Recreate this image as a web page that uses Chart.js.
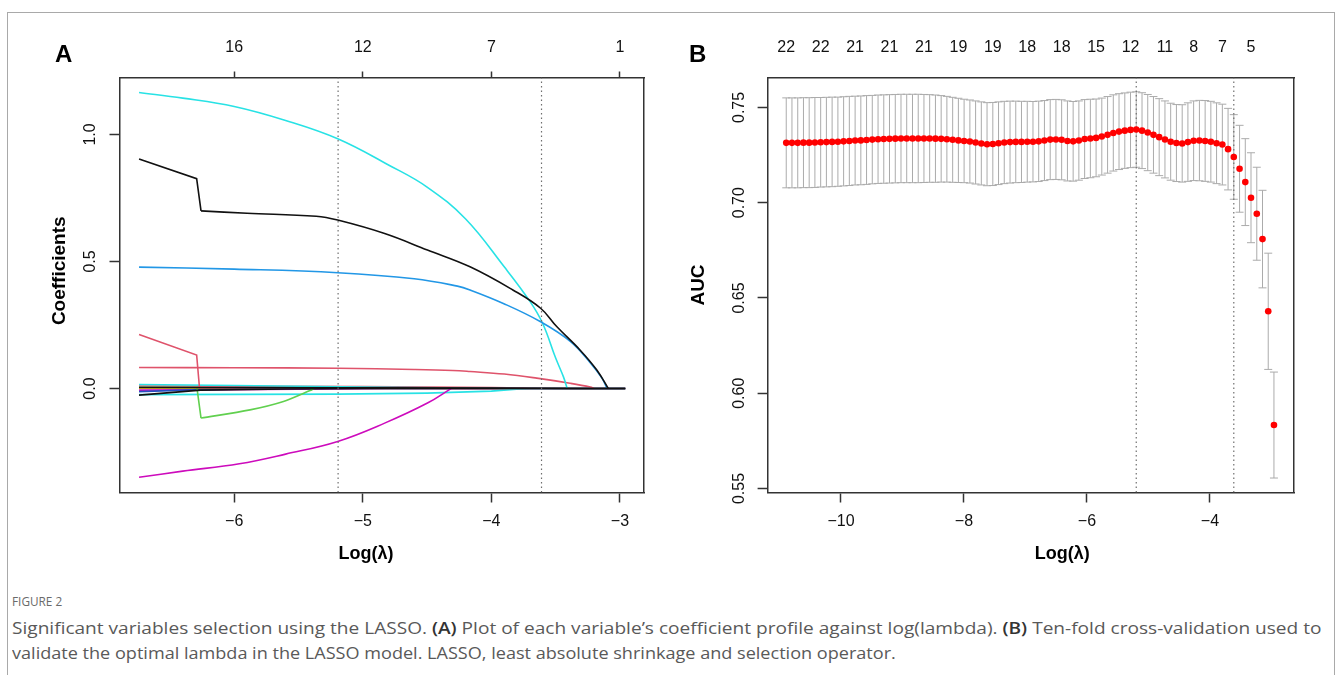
<!DOCTYPE html>
<html>
<head>
<meta charset="utf-8">
<script src="https://cdn.jsdelivr.net/npm/chart.js@4.4.0/dist/chart.umd.min.js"></script>
<style>
html,body{margin:0;padding:0;background:#fff;}
body{width:1335px;height:675px;position:relative;overflow:hidden;}
#frame{position:absolute;left:7px;top:12px;width:1326px;height:700px;border:1px solid #a9a9a9;border-bottom:none;}
#wrapA{position:absolute;left:0;top:0;width:670px;height:580px;}
#wrapB{position:absolute;left:670px;top:0;width:665px;height:580px;}
.panel{position:absolute;font:bold 24px/1 "Liberation Sans",Arial,sans-serif;color:#000;}
#figno{position:absolute;left:12px;top:596px;font:12.5px/12px "Open Sans",sans-serif;color:#6a6a6a;white-space:nowrap;transform-origin:0 0;}
.capline{position:absolute;left:12px;font:16.5px/25px "Open Sans",sans-serif;color:#595959;white-space:nowrap;transform-origin:0 0;}
.capline b{font-weight:600;color:#333;}
</style>
</head>
<body>
<div id="frame"></div>
<div id="wrapA"><canvas id="cA" width="670" height="580"></canvas></div>
<div id="wrapB"><canvas id="cB" width="665" height="580"></canvas></div>
<div class="panel" style="left:55px;top:42px;">A</div>
<div class="panel" style="left:689px;top:42px;">B</div>
<div id="figno">FIGURE 2</div>
<div class="capline" id="capL1" style="top:615px;">Significant variables selection using the LASSO. <b>(A)</b> Plot of each variable’s coefficient profile against log(lambda). <b>(B)</b> Ten-fold cross-validation used to</div>
<div class="capline" id="capL2" style="top:640px;">validate the optimal lambda in the LASSO model. LASSO, least absolute shrinkage and selection operator.</div>
<script>
// ================= Panel A: coefficient paths =================
const xTicksA = [-6, -5, -4, -3];
const topLabelsA = ['16', '12', '7', '1'];
const yTicksA = [0, 0.5, 1.0];
const xRangeA = [-6.892, -2.813];
const yRangeA = [-0.409, 1.224];
const cutoffsA = [-5.192, -3.610];

const pathBlack   = [[-6.74,0.903],[-6.292,0.826],[-6.258,0.699],[-5.9,0.690],[-5.362,0.678],[-5.195,0.663],[-4.83,0.610],[-4.497,0.545],[-4.166,0.479],[-3.833,0.388],[-3.617,0.316],[-3.492,0.244],[-3.311,0.152],[-3.18,0.073],[-3.09,0]];
const pathCyan    = [[-6.74,1.165],[-6.4,1.143],[-6.0,1.110],[-5.6,1.055],[-5.195,0.983],[-4.8,0.880],[-4.5,0.793],[-4.2,0.667],[-3.9,0.479],[-3.7,0.343],[-3.6,0.255],[-3.5,0.120],[-3.44,0.047],[-3.41,0]];
const pathBlue    = [[-6.74,0.478],[-6.0,0.470],[-5.195,0.456],[-4.6,0.432],[-4.264,0.403],[-4.166,0.388],[-3.907,0.335],[-3.617,0.263],[-3.384,0.185],[-3.228,0.100],[-3.14,0.041],[-3.10,0]];
const pathPinkHi  = [[-6.74,0.213],[-6.292,0.132],[-6.27,0.003],[-5.0,0.002],[-4.0,0],[-2.959,0]];
const pathPinkLo  = [[-6.74,0.083],[-6.0,0.082],[-5.195,0.080],[-4.6,0.075],[-4.3,0.071],[-4.166,0.067],[-3.9,0.057],[-3.647,0.041],[-3.389,0.021],[-3.23,0.006],[-3.2,0]];
const pathGreen   = [[-6.74,0.005],[-6.29,0.004],[-6.258,-0.116],[-5.877,-0.084],[-5.617,-0.051],[-5.41,-0.008],[-5.38,0]];
const pathMagenta = [[-6.74,-0.349],[-6.4,-0.325],[-5.96,-0.296],[-5.6,-0.258],[-5.195,-0.208],[-4.83,-0.136],[-4.497,-0.057],[-4.314,0]];
const pathCyanLow = [[-6.74,-0.024],[-5.195,-0.022],[-4.5,-0.018],[-4.0,-0.010],[-3.78,-0.002],[-3.7,0],[-2.959,0]];
const pathCyanHi  = [[-6.74,0.016],[-6.0,0.012],[-5.0,0.006],[-4.2,0.002],[-3.9,0],[-2.959,0]];
const pathBlackNeg= [[-6.74,-0.026],[-6.26,-0.006],[-5.6,-0.002],[-5.0,0],[-2.959,0]];
const pathBlackPos= [[-6.74,0.004],[-5.0,0.003],[-4.0,0.002],[-3.3,0],[-2.959,0]];
const pathPinkNear= [[-6.74,0.010],[-5.0,0.008],[-4.0,0.004],[-3.5,0],[-2.959,0]];
const pathGrayNear= [[-6.74,0.006],[-5.5,0.003],[-4.6,0],[-2.959,0]];
const pathBlueNear= [[-6.74,-0.012],[-6.26,-0.004],[-5.6,0],[-2.959,0]];
const pathMagNear = [[-6.74,-0.006],[-5.5,-0.003],[-4.8,0],[-2.959,0]];
const pathYellow  = [[-6.74,0.001],[-6.3,0],[-2.959,0]];

// ================= Panel B: cross-validated AUC =================
const lambdaB = [-10.890,-10.797,-10.703,-10.610,-10.517,-10.424,-10.330,-10.237,-10.144,-10.050,
  -9.957,-9.864,-9.770,-9.677,-9.584,-9.491,-9.397,-9.304,-9.211,-9.117,
  -9.024,-8.931,-8.837,-8.744,-8.651,-8.558,-8.464,-8.371,-8.278,-8.184,
  -8.091,-7.998,-7.904,-7.811,-7.718,-7.625,-7.531,-7.438,-7.345,-7.251,
  -7.158,-7.065,-6.971,-6.878,-6.785,-6.692,-6.598,-6.505,-6.412,-6.318,
  -6.225,-6.132,-6.038,-5.945,-5.852,-5.759,-5.665,-5.572,-5.479,-5.385,
  -5.292,-5.199,-5.105,-5.012,-4.919,-4.826,-4.732,-4.639,-4.546,-4.452,
  -4.359,-4.266,-4.172,-4.079,-3.986,-3.893,-3.799,-3.706,-3.613,-3.519,
  -3.426,-3.333,-3.239,-3.146,-3.053,-2.960];
const aucMean = [.7314,.7314,.7314,.7315,.7315,.7316,.7317,.7318,.7319,.7320,
  .7322,.7324,.7326,.7327,.7329,.7331,.7333,.7334,.7335,.7336,
  .7337,.7337,.7337,.7337,.7337,.7337,.7336,.7335,.7333,.7330,
  .7327,.7324,.7321,.7316,.7311,.7307,.7308,.7312,.7316,.7318,
  .7319,.7319,.7320,.7320,.7322,.7326,.7331,.7332,.7330,.7324,
  .7322,.7326,.7334,.7337,.7340,.7347,.7356,.7366,.7373,.7378,
  .7382,.7384,.7378,.7368,.7356,.7344,.7332,.7320,.7313,.7311,
  .7318,.7325,.7326,.7324,.7320,.7312,.7305,.7281,.7240,.7178,
  .7108,.7026,.6942,.6809,.6430,.5833];
const aucSE = [.0236,.0236,.0236,.0236,.0236,.0236,.0235,.0235,.0235,.0234,
  .0234,.0234,.0233,.0233,.0233,.0232,.0232,.0232,.0232,.0232,
  .0232,.0232,.0232,.0232,.0231,.0230,.0229,.0227,.0225,.0223,
  .0221,.0219,.0218,.0218,.0218,.0218,.0218,.0217,.0216,.0215,
  .0214,.0213,.0212,.0211,.0211,.0210,.0210,.0210,.0210,.0210,
  .0209,.0208,.0207,.0206,.0204,.0202,.0201,.0200,.0199,.0198,
  .0198,.0198,.0199,.0200,.0201,.0202,.0202,.0202,.0202,.0203,
  .0206,.0209,.0211,.0212,.0212,.0212,.0212,.0214,.0222,.0228,
  .0228,.0236,.0244,.0256,.0305,.0278];
const topPosB = [-10.890,-10.330,-9.770,-9.211,-8.651,-8.091,-7.531,-6.971,-6.412,-5.852,-5.292,-4.732,-4.266,-3.799,-3.333];
const topLabelsB = ['22','22','21','21','21','19','19','18','18','15','12','11','8','7','5'];
const xTicksB = [-10, -8, -6, -4];
const yTicksB = [0.55, 0.60, 0.65, 0.70, 0.75];
const xRangeB = [-11.193, -2.634];
const yRangeB = [0.5479, 0.7657];
const cutoffsB = [-5.199, -3.613];

// ================= helpers =================
const FONT = '"Liberation Sans", Arial, Helvetica, sans-serif';
const AX = '#333333';
const minusFmt = v => (v < 0 ? '\u2212' + String(Math.abs(v)) : String(v));

function buildScales(c) {
  const tickFont = {family: FONT, size: 16};
  return {
    x: {
      type: 'linear', position: 'bottom', min: c.xRange[0], max: c.xRange[1],
      afterBuildTicks: s => { s.ticks = c.xTicks.map(v => ({value: v})); },
      afterFit: s => { s.height = c.bottomH; },
      ticks: {callback: v => minusFmt(v), font: tickFont, color: '#111', padding: 9, maxRotation: 0, minRotation: 0, autoSkip: false},
      grid: {drawOnChartArea: false, drawTicks: true, tickLength: 10, tickColor: AX, tickWidth: 1.5, color: AX},
      border: {display: true, color: AX, width: 1.5},
      title: {display: true, text: c.xTitle, font: {family: FONT, size: 18, weight: 'bold'}, color: '#000', padding: {top: 0, bottom: 15}}
    },
    xTop: {
      type: 'linear', position: 'top', min: c.xRange[0], max: c.xRange[1],
      afterBuildTicks: s => { s.ticks = c.topPos.map(v => ({value: v})); },
      afterFit: s => { s.height = c.topH; },
      ticks: {callback: (v, i) => c.topLabels[i], font: tickFont, color: '#111', padding: c.topPad, maxRotation: 0, minRotation: 0, autoSkip: false},
      grid: {drawOnChartArea: false, drawTicks: c.topTicks, tickLength: 6, tickColor: AX, tickWidth: 1.5, color: AX},
      border: {display: true, color: AX, width: 1.5}
    },
    y: {
      type: 'linear', position: 'left', min: c.yRange[0], max: c.yRange[1],
      afterBuildTicks: s => { s.ticks = c.yTicks.map(v => ({value: v})); },
      afterFit: s => { s.width = c.leftW; },
      ticks: {callback: v => v.toFixed(c.yDec), font: tickFont, color: '#111', padding: c.yPad, minRotation: 90, maxRotation: 90, crossAlign: 'center', autoSkip: false},
      grid: {drawOnChartArea: false, drawTicks: true, tickLength: 10, tickColor: AX, tickWidth: 1.5, color: AX},
      border: {display: true, color: AX, width: 1.5},
      title: {display: true, text: c.yTitle, font: {family: FONT, size: 19, weight: 'bold'}, color: '#000', padding: {top: c.yTitlePad, bottom: 0}}
    },
    yRight: {
      type: 'linear', position: 'right', min: c.yRange[0], max: c.yRange[1],
      afterFit: s => { s.width = c.rightW; },
      ticks: {display: false},
      grid: {drawOnChartArea: false, drawTicks: false},
      border: {display: true, color: AX, width: 1.5}
    }
  };
}

function cutoffDatasets(cuts, yr) {
  return cuts.map(v => ({
    data: [{x: v, y: yr[0]}, {x: v, y: yr[1]}],
    borderColor: '#6f6f6f', borderWidth: 1.2, borderDash: [1.5, 3], pointRadius: 0, fill: false
  }));
}

const baseOpts = {
  responsive: false, animation: false, events: [],
  layout: {padding: 0},
  plugins: {legend: {display: false}, tooltip: {enabled: false}, title: {display: false}}
};

// ================= Chart A =================
const seriesA = [
  {p: pathBlack.slice(0, 3), c: '#111111', t: 0},
  {p: pathBlack.slice(2), c: '#111111', t: 0.4},
  {p: pathBlackPos, c: '#111111', t: 0},
  {p: pathBlackNeg, c: '#111111', t: 0},
  {p: pathBlue, c: '#2297E6', t: 0.4},
  {p: pathCyan, c: '#28E2E5', t: 0.4},
  {p: pathPinkLo, c: '#DF536B', t: 0.4},
  {p: pathMagenta, c: '#CD0BBC', t: 0.4},
  {p: pathGreen.slice(0, 3), c: '#61D04F', t: 0},
  {p: pathGreen.slice(2), c: '#61D04F', t: 0.3},
  {p: pathPinkHi, c: '#DF536B', t: 0},
  {p: pathCyanLow, c: '#28E2E5', t: 0},
  {p: pathCyanHi, c: '#28E2E5', t: 0},
  {p: pathBlueNear, c: '#2450c0', t: 0},
  {p: pathMagNear, c: '#CD0BBC', t: 0},
  {p: pathPinkNear, c: '#DF536B', t: 0},
  {p: pathGrayNear, c: '#9E9E9E', t: 0},
  {p: pathYellow, c: '#F5C710', t: 0}
];
new Chart(document.getElementById('cA'), {
  type: 'line',
  data: {datasets: cutoffDatasets(cutoffsA, yRangeA).concat(seriesA.map(s => ({
    data: s.p.map(q => ({x: q[0], y: q[1]})),
    borderColor: s.c, borderWidth: 1.6, pointRadius: 0, fill: false, tension: s.t
  })))},
  options: Object.assign({}, baseOpts, {
    scales: buildScales({
      xRange: xRangeA, yRange: yRangeA, xTicks: xTicksA, yTicks: yTicksA, yDec: 1,
      topPos: xTicksA, topLabels: topLabelsA, topTicks: true, topPad: 14.1,
      bottomH: 87.5, topH: 77.5, leftW: 119.5, rightW: 26,
      yPad: 7.4, yTitlePad: 48.6,
      xTitle: 'Log(λ)\u2002\u2002\u2002\u2005', yTitle: '\u2002\u2002\u2002Coefficients'
    })
  })
});

// ================= Chart B =================
const barData = [], capData = [], meanData = [];
lambdaB.forEach((x, i) => {
  const lo = aucMean[i] - aucSE[i], hi = aucMean[i] + aucSE[i];
  barData.push({x: x, y: lo}, {x: x, y: hi}, {x: x, y: null});
  capData.push({x: x, y: lo}, {x: x, y: hi});
  meanData.push({x: x, y: aucMean[i]});
});
new Chart(document.getElementById('cB'), {
  type: 'line',
  data: {datasets: [
    {data: meanData, showLine: false, pointRadius: 3.3, pointBackgroundColor: '#FF0000', pointBorderWidth: 0, pointBorderColor: '#FF0000'},
    ...cutoffDatasets(cutoffsB, yRangeB),
    {data: capData, showLine: false, pointStyle: 'line', pointRadius: 4, pointBorderWidth: 1, pointBorderColor: '#ababab'},
    {data: barData, borderColor: '#ababab', borderWidth: 1, pointRadius: 0, spanGaps: false, fill: false}
  ]},
  options: Object.assign({}, baseOpts, {
    scales: buildScales({
      xRange: xRangeB, yRange: yRangeB, xTicks: xTicksB, yTicks: yTicksB, yDec: 2,
      topPos: topPosB, topLabels: topLabelsB, topTicks: false, topPad: 20.1,
      bottomH: 87.5, topH: 77.5, leftW: 97.6, rightW: 41,
      yPad: 2, yTitlePad: 17.1,
      xTitle: '\u2002\u2002\u2002\u2002\u2002\u2002\u2002Log(λ)', yTitle: 'AUC'
    })
  })
});

// ================= caption fitting (offsetWidth ignores transforms) =================
function fitTo(id, target) {
  const el = document.getElementById(id);
  el.style.transform = 'scaleX(' + (target / el.offsetWidth) + ')';
}
function fitCaption() {
  fitTo('capL1', 1310);
  fitTo('capL2', 884);
  fitTo('figno', 50);
}
fitCaption();
if (document.fonts && document.fonts.ready) { document.fonts.ready.then(fitCaption); }
</script>
</body>
</html>
